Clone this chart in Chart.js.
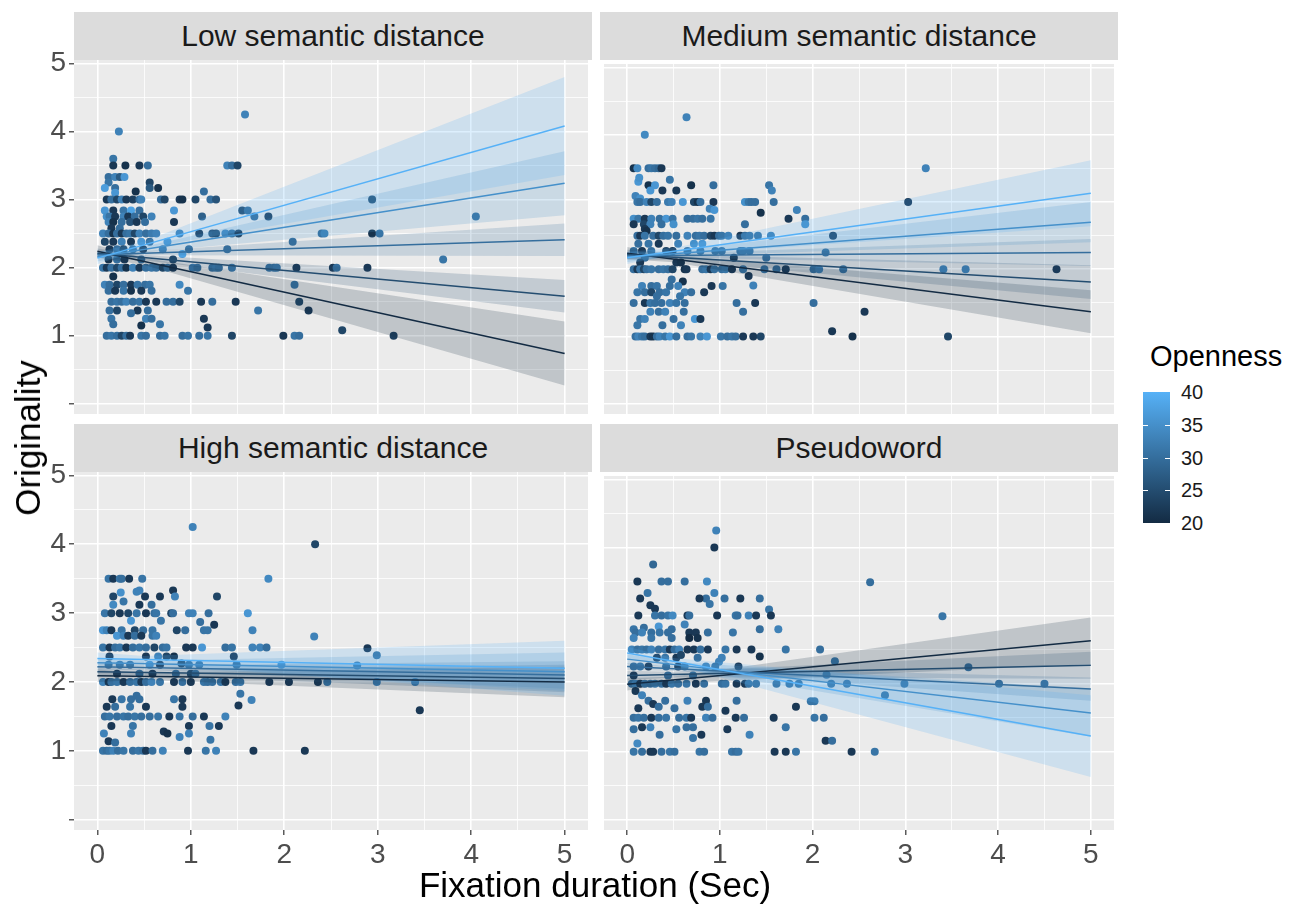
<!DOCTYPE html>
<html>
<head>
<meta charset="utf-8">
<script src="https://cdn.jsdelivr.net/npm/chart.js@4.4.1/dist/chart.umd.min.js"></script>
<style>
  body { margin: 0; width: 1305px; height: 904px; background: #fff; position: relative; overflow: hidden;
         font-family: "Liberation Sans", Arial, sans-serif; }
  canvas { position: absolute; }
  .strip { position: absolute; width: 518px; height: 48px; line-height: 48px; background: #DCDCDC;
           color: #1A1A1A; font-size: 30px; text-align: center; z-index: 2; }
  .title { position: absolute; color: #000; font-size: 35px; white-space: nowrap; }
  #legend { position: absolute; left: 1143px; top: 392px; width: 27px; height: 131px;
            background: linear-gradient(to top, #132B43, #56B1F7); }
  .ltick { position: absolute; width: 5px; height: 1px; background: #fff; }
  .llab { position: absolute; left: 1181px; font-size: 20px; color: #1A1A1A; line-height: 20px; }
</style>
</head>
<body>

<div class="strip" style="left:74px;top:12px">Low semantic distance</div>
<div class="strip" style="left:600px;top:12px">Medium semantic distance</div>
<div class="strip" style="left:74px;top:424px">High semantic distance</div>
<div class="strip" style="left:600px;top:424px">Pseudoword</div>

<canvas id="cLow" width="558" height="378" style="left:34px;top:40px"></canvas>
<canvas id="cMed" width="518" height="358" style="left:600px;top:60px"></canvas>
<canvas id="cHigh" width="558" height="428" style="left:34px;top:452px"></canvas>
<canvas id="cPseudo" width="518" height="408" style="left:600px;top:472px"></canvas>

<div class="title" style="left:28px;top:438px;transform:translate(-50%,-50%) rotate(-90deg)">Originality</div>
<div class="title" style="left:595px;top:885px;transform:translate(-50%,-50%)">Fixation duration (Sec)</div>
<div class="title" style="left:1150px;top:340px;font-size:29px">Openness</div>
<div id="legend"></div>

<script>
// openness levels of the fitted lines (light -> dark)
const lineLevels = [40, 35, 30, 25, 20];
const legendTicks = [20, 25, 30, 35, 40];
const xTicks = [0, 0.5, 1, 1.5, 2, 2.5, 3, 3.5, 4, 4.5, 5];
const yTicks = [0, 0.5, 1, 1.5, 2, 2.5, 3, 3.5, 4, 4.5, 5];
const lineX = [0, 5];
const ciX = [0, 0.5, 5];
const ciAt0 = [0.09, 0.07, 0.05, 0.07, 0.09];
const ciAtHalf = [0.05, 0.04, 0.03, 0.04, 0.05];

// fitted values at x = 0 and x = 5, and CI half width at x = 5
const lowFit0 = [2.14, 2.16, 2.19, 2.21, 2.24];
const lowFit5 = [4.08, 3.24, 2.41, 1.58, 0.74];
const lowCI5 = [0.72, 0.47, 0.24, 0.24, 0.47];
const medFit0 = [2.17, 2.18, 2.20, 2.22, 2.24];
const medFit5 = [3.13, 2.70, 2.25, 1.81, 1.37];
const medCI5 = [0.49, 0.30, 0.20, 0.25, 0.32];
const highFit0 = [2.34, 2.28, 2.22, 2.15, 2.09];
const highFit5 = [2.20, 2.15, 2.10, 2.05, 2.00];
const highCI5 = [0.40, 0.28, 0.20, 0.20, 0.22];
const pseudoFit0 = [2.45, 2.36, 2.25, 2.12, 1.99];
const pseudoFit5 = [1.23, 1.57, 1.92, 2.27, 2.63];
const pseudoCI5 = [0.60, 0.35, 0.17, 0.20, 0.34];

// points: [fixation duration, originality, openness]
const lowPts = [
  [1.58,4.25,33],[0.23,4,33],[0.17,3.6,31],
  [0.17,3.5,22],[0.3,3.5,21],[0.45,3.5,22],[0.54,3.5,30],[1.39,3.5,33],[1.44,3.5,30],[1.5,3.5,24],
  [0.12,3.33,30],[0.19,3.33,33],[0.24,3.33,27],[0.29,3.33,36],[0.12,3.25,31],[0.56,3.25,24],
  [0.08,3.17,37],[0.19,3.17,30],[0.56,3.17,27],[0.65,3.17,21],[0.41,3.12,21],[1.14,3.12,30],[0.19,3.1,36],
  [0.1,3,22],[0.15,3,30],[0.21,3,24],[0.26,3,33],[0.31,3,22],[0.38,3,23],[0.45,3,30],[0.47,3,33],[0.68,3,30],[0.72,3,24],
  [0.88,3,22],[0.91,3,21],[1.05,3,24],[1.21,3,30],[1.27,3,26],[2.94,3,24],
  [0.08,2.84,36],[0.17,2.84,22],[0.28,2.84,31],[0.36,2.84,38],[0.45,2.84,30],[0.82,2.84,36],[1.55,2.84,25],[1.61,2.84,30],
  [0.1,2.75,35],[0.13,2.75,31],[0.19,2.75,22],[0.28,2.75,33],[0.33,2.75,22],[0.4,2.75,30],[0.49,2.75,24],[0.58,2.75,33],
  [1.12,2.75,28],[1.68,2.75,30],[1.83,2.75,23],[4.05,2.75,31],
  [0.12,2.67,33],[0.17,2.67,21],[0.26,2.67,30],[0.35,2.67,26],[0.42,2.67,22],[0.51,2.67,30],[0.82,2.67,22],[0.15,2.58,22],[0.24,2.58,30],
  [0.06,2.5,33],[0.12,2.5,30],[0.17,2.5,21],[0.21,2.5,30],[0.26,2.5,22],[0.31,2.5,30],[0.35,2.5,31],[0.4,2.5,24],[0.45,2.5,33],
  [0.52,2.5,30],[0.58,2.5,32],[0.63,2.5,33],[0.88,2.5,33],[1.09,2.5,22],[1.23,2.5,25],[1.27,2.5,24],[1.37,2.5,33],[1.44,2.5,30],
  [1.51,2.5,22],[2.4,2.5,30],[2.43,2.5,33],[2.94,2.5,21],[3.02,2.5,31],
  [0.08,2.38,24],[0.17,2.38,22],[0.26,2.38,33],[0.36,2.38,22],[0.47,2.38,36],[0.56,2.38,30],[0.75,2.38,36],[2.09,2.38,30],
  [0.13,2.27,22],[0.21,2.27,30],[0.28,2.27,24],[0.38,2.27,31],[0.49,2.27,22],[0.7,2.27,33],[0.98,2.27,30],[1.39,2.27,30],[0.91,2.2,38],
  [0.12,2.12,21],[0.21,2.12,30],[0.29,2.12,22],[0.47,2.12,30],[0.81,2.12,24],[3.7,2.12,31],
  [0.06,2,31],[0.1,2,22],[0.15,2,30],[0.21,2,24],[0.26,2,30],[0.31,2,21],[0.38,2,33],[0.45,2,22],[0.52,2,30],[0.58,2,31],
  [0.63,2,30],[0.7,2,24],[0.75,2,30],[0.81,2,22],[1.02,2,32],[1.07,2,30],[1.23,2,30],[1.27,2,31],[1.3,2,30],[1.44,2,31],
  [1.84,2,30],[1.89,2,30],[1.92,2,31],[2.13,2,22],[2.52,2,22],[2.56,2,30],[2.89,2,22],
  [0.17,1.87,21],
  [0.08,1.75,33],[0.13,1.75,30],[0.21,1.75,24],[0.28,1.75,30],[0.36,1.75,22],[0.43,1.75,31],[0.51,1.75,30],[0.56,1.75,31],[0.88,1.75,34],[2.11,1.75,31],
  [0.12,1.66,30],[0.19,1.66,22],[0.28,1.66,31],[0.36,1.66,21],[0.47,1.66,22],[0.58,1.66,30],[0.97,1.66,31],
  [0.15,1.5,30],[0.21,1.5,31],[0.26,1.5,30],[0.31,1.5,33],[0.38,1.5,30],[0.45,1.5,31],[0.52,1.5,22],[0.63,1.5,22],
  [0.74,1.5,30],[0.81,1.5,30],[0.88,1.5,24],[1.11,1.5,22],[1.23,1.5,30],[1.48,1.5,22],[2.16,1.5,24],
  [0.13,1.37,30],[0.21,1.37,24],[0.43,1.37,22],[0.54,1.37,30],[1.72,1.37,31],[2.26,1.37,22],[0.36,1.33,30],
  [0.15,1.25,31],[0.52,1.25,33],[0.58,1.25,30],[1.14,1.25,22],
  [0.17,1.17,30],[0.47,1.15,21],[0.67,1.17,31],[1.18,1.12,22],[2.62,1.08,24],
  [0.1,1,30],[0.15,1,31],[0.21,1,30],[0.26,1,24],[0.31,1,30],[0.35,1,22],[0.47,1,31],[0.52,1,30],[0.67,1,30],[0.72,1,31],
  [0.91,1,30],[0.97,1,31],[1.09,1,30],[1.18,1,31],[1.44,1,24],[1.99,1,22],[2.11,1,31],[2.16,1,30],[3.17,1,23]
];

const medPts = [
  [0.64,4.26,33],[0.19,4,34],[3.22,3.5,33],[3.03,3,22],
  [0.07,3.5,21],[0.11,3.5,34],[0.23,3.5,30],[0.26,3.5,31],[0.3,3.5,30],[0.34,3.5,29],[0.37,3.5,22],
  [0.46,3.33,31],[0.12,3.3,36],[0.13,3.36,35],
  [0.23,3.25,21],[0.3,3.25,36],[0.69,3.25,21],[0.93,3.25,30],[1.53,3.25,31],[1.56,3.17,33],[0.25,3.17,36],[0.38,3.17,22],[0.53,3.17,22],
  [0.09,3.09,33],[0.14,3.05,35],
  [0.11,3,31],[0.14,3,30],[0.21,3,33],[0.26,3,24],[0.32,3,30],[0.44,3,32],[0.48,3,33],[0.6,3,36],[0.72,3,24],[0.76,3,21],
  [0.79,3,30],[0.93,3,22],[1.27,3,35],[1.31,3,31],[1.34,3,30],[1.38,3,30],[1.58,3,30],
  [0.89,2.9,33],[0.94,2.88,36],[1.83,2.88,33],[1.44,2.84,21],[1.92,2.75,30],[1.92,2.67,35],[1.74,2.75,22],
  [0.07,2.75,35],[0.12,2.75,31],[0.19,2.75,22],[0.26,2.75,33],[0.35,2.75,30],[0.42,2.75,36],[0.49,2.75,31],[0.65,2.75,30],
  [0.71,2.75,30],[0.76,2.75,31],[0.81,2.75,30],[0.9,2.75,31],
  [0.07,2.67,22],[0.18,2.67,24],[0.25,2.67,33],[0.37,2.67,30],[0.5,2.67,35],[1.27,2.67,30],[0.19,2.6,22],[0.21,2.57,21],
  [0.11,2.5,30],[0.14,2.5,22],[0.19,2.5,31],[0.28,2.5,30],[0.34,2.5,24],[0.39,2.5,30],[0.44,2.5,31],[0.53,2.5,30],[0.65,2.5,33],
  [0.74,2.5,30],[0.78,2.5,31],[0.83,2.5,30],[0.9,2.5,24],[0.94,2.5,22],[0.99,2.5,30],[1.02,2.5,31],[1.09,2.5,33],[1.22,2.5,22],
  [1.27,2.5,30],[1.32,2.5,31],[1.41,2.5,31],[1.55,2.5,33],[2.22,2.5,22],
  [0.12,2.38,30],[0.23,2.38,31],[0.34,2.38,22],[0.55,2.38,33],[0.72,2.38,35],[0.81,2.38,36],
  [0.07,2.27,31],[0.16,2.27,22],[0.26,2.27,30],[0.42,2.27,24],[0.49,2.27,22],[0.65,2.27,30],[0.79,2.27,31],[0.95,2.27,30],
  [1.02,2.27,30],[1.22,2.27,30],[1.25,2.27,31],[1.32,2.27,31],[2.14,2.25,31],
  [1.15,2.17,21],[1.5,2.17,30],[0.19,2.17,30],[0.14,2.1,22],[0.53,2.1,22],[0.58,2.1,21],
  [0.07,2,30],[0.11,2,22],[0.14,2,31],[0.18,2,24],[0.21,2,30],[0.26,2,31],[0.34,2,30],[0.39,2,31],[0.44,2,30],[0.49,2,24],
  [0.62,2,21],[0.64,2,22],[0.81,2,30],[0.85,2,31],[0.9,2,22],[0.94,2,30],[1.02,2,30],[1.06,2,31],[1.13,2,22],[1.25,2,31],
  [1.48,2,31],[1.61,2,30],[1.71,2,22],[2.01,2,31],[2.07,2,33],[2.33,2,31],[3.41,2,33],[3.65,2,33],[4.63,2,22],
  [1.31,1.9,22],[0.48,1.85,30],[0.6,1.82,21],
  [0.16,1.75,33],[0.26,1.75,30],[0.32,1.75,31],[0.46,1.75,30],[0.55,1.75,33],[0.91,1.75,22],[1.03,1.75,31],[1.36,1.76,33],
  [0.11,1.66,31],[0.19,1.66,30],[0.26,1.66,24],[0.35,1.66,30],[0.42,1.66,31],[0.62,1.66,33],[0.69,1.66,30],[0.83,1.66,22],
  [0.32,1.6,30],[0.57,1.6,31],
  [0.07,1.5,30],[0.19,1.5,22],[0.25,1.5,31],[0.3,1.5,30],[0.37,1.5,30],[0.46,1.5,33],[0.53,1.5,31],[0.62,1.5,30],
  [1.18,1.5,30],[1.38,1.5,22],[2.01,1.5,30],
  [0.25,1.37,33],[0.34,1.37,30],[0.41,1.37,33],[0.61,1.37,30],[1.25,1.37,30],[2.56,1.37,22],
  [0.14,1.26,31],[0.19,1.26,33],[0.5,1.26,30],[0.73,1.26,36],[0.79,1.26,22],
  [0.11,1.17,31],[0.38,1.17,30],[0.58,1.17,33],[2.21,1.08,22],
  [0.09,1,30],[0.12,1,33],[0.16,1,31],[0.19,1,30],[0.25,1,22],[0.28,1,21],[0.32,1,30],[0.35,1,33],[0.41,1,31],[0.46,1,36],
  [0.53,1,30],[0.65,1,30],[0.69,1,31],[0.79,1,33],[0.86,1,36],[1.01,1,31],[1.08,1,30],[1.13,1,31],[1.17,1,30],[1.25,1,22],
  [1.36,1,22],[1.44,1,24],[2.43,1,21],[3.46,1,24]
];

const highPts = [
  [1.02,4.25,33],[2.33,4,24],[1.83,3.5,34],[2.32,2.66,33],
  [0.12,3.5,31],[0.17,3.5,22],[0.24,3.5,31],[0.26,3.5,30],[0.34,3.5,22],[0.48,3.5,31],
  [0.25,3.3,35],[0.42,3.31,33],[0.45,3.33,33],[0.81,3.33,22],[0.83,3.24,33],[0.51,3.24,22],[0.67,3.24,22],[0.17,3.24,24],
  [1.28,3.24,24],[0.28,3.17,31],[0.17,3.12,34],[0.45,3.12,22],[0.58,3.12,30],
  [0.08,3,31],[0.15,3,24],[0.24,3,22],[0.33,3,24],[0.42,3,31],[0.52,3,22],[0.61,3,30],[0.63,3,31],[0.79,3,24],[0.81,3,30],
  [0.98,3,33],[1.02,3,33],[1.19,3,30],[1.61,3,36],
  [0.36,2.89,36],[0.68,2.89,31],[1.1,2.87,30],[1.25,2.83,22],
  [0.06,2.75,36],[0.1,2.75,33],[0.15,2.75,22],[0.26,2.75,31],[0.4,2.75,24],[0.49,2.75,30],[0.59,2.75,31],[0.85,2.75,24],
  [0.94,2.75,30],[1.14,2.75,31],[1.18,2.75,31],[1.66,2.75,33],
  [0.21,2.67,36],[0.28,2.67,33],[0.33,2.67,22],[0.4,2.67,30],[0.47,2.67,22],[0.59,2.67,31],[0.63,2.67,33],
  [0.06,2.5,31],[0.13,2.5,22],[0.19,2.5,30],[0.24,2.5,31],[0.31,2.5,22],[0.38,2.5,30],[0.45,2.5,31],[0.52,2.5,30],[0.61,2.5,24],
  [0.7,2.5,30],[0.74,2.5,31],[0.95,2.5,22],[1.02,2.5,22],[1.12,2.5,36],[1.37,2.5,30],[1.44,2.5,31],[1.66,2.5,33],[1.74,2.5,33],
  [1.81,2.5,30],[2.89,2.49,22],
  [0.13,2.37,22],[0.52,2.37,22],[0.65,2.37,33],[0.74,2.37,24],[0.82,2.37,21],[1.46,2.37,22],[2.99,2.39,31],
  [0.12,2.25,30],[0.24,2.25,31],[0.35,2.25,30],[0.56,2.25,36],[0.67,2.25,22],[0.9,2.27,24],[0.98,2.25,30],[1.09,2.25,31],
  [1.49,2.25,30],[1.97,2.25,36],[2.78,2.24,33],
  [0.21,2.12,22],[0.45,2.12,30],[0.59,2.12,22],[0.84,2.12,30],[1,2.12,24],[1.05,2.12,31],
  [0.06,2,33],[0.12,2,22],[0.15,2,30],[0.21,2,31],[0.28,2,22],[0.35,2,30],[0.42,2,31],[0.47,2,22],[0.52,2,30],[0.58,2,33],
  [0.67,2,31],[0.82,2,22],[0.91,2,30],[1,2,22],[1.14,2,31],[1.18,2,30],[1.23,2,30],[1.32,2,31],[1.37,2,22],[1.48,2,30],
  [1.53,2,31],[1.84,2,22],[2.05,2,22],[2.36,2,22],[2.46,2,31],[2.99,2,33],[3.4,2,33],
  [1.53,1.83,31],[1.65,1.74,33],[1.51,1.66,22],[3.45,1.59,22],
  [0.42,1.8,30],[0.16,1.75,22],[0.26,1.75,31],[0.36,1.75,30],[0.45,1.75,30],[0.82,1.75,31],[0.91,1.75,22],
  [0.1,1.64,22],[0.19,1.64,30],[0.35,1.64,31],[0.52,1.64,22],[0.91,1.64,22],
  [0.08,1.5,30],[0.13,1.5,31],[0.21,1.5,30],[0.28,1.5,31],[0.33,1.5,30],[0.4,1.5,31],[0.47,1.5,30],[0.56,1.5,30],[0.65,1.5,31],
  [0.77,1.5,22],[0.88,1.5,31],[1.02,1.5,30],[1.14,1.5,22],[1.37,1.5,33],
  [0.15,1.36,22],[0.38,1.36,31],[0.98,1.36,22],[1.2,1.36,31],[1.3,1.36,22],
  [0.07,1.25,33],[0.36,1.25,33],[0.71,1.28,22],[0.75,1.25,21],[0.88,1.2,33],[0.98,1.25,33],
  [0.12,1.14,22],[0.19,1.12,30],[1.21,1.16,31],
  [0.06,1,31],[0.1,1,30],[0.13,1,31],[0.17,1,33],[0.22,1,30],[0.28,1,31],[0.38,1,30],[0.44,1,31],[0.49,1,30],[0.52,1,22],
  [0.59,1,30],[0.7,1,33],[0.97,1,22],[1.16,1,31],[1.27,1,33],[1.67,1,22],[2.22,1,22]
];

const pseudoPts = [
  [0.96,4.25,33],[0.94,4,22],[0.28,3.75,29],[2.62,3.49,30],[3.4,2.99,31],
  [0.11,3.5,22],[0.37,3.5,30],[0.44,3.5,30],[0.62,3.5,30],[0.86,3.5,34],
  [0.22,3.33,31],[0.14,3.25,22],[0.94,3.33,33],[0.85,3.25,30],[0.78,3.25,22],[1.22,3.25,22],[1.43,3.25,30],[1.05,3.25,30],
  [0.89,3.17,31],[0.25,3.15,22],[0.3,3.1,22],[1.53,3.09,31],
  [0.12,3,22],[0.3,3,31],[0.37,3,30],[0.44,3,31],[0.49,3,34],[0.65,3,22],[0.67,3,30],[0.97,3,22],[1.17,3,31],[1.19,3,30],
  [1.31,3,33],[1.39,3,22],[1.55,3,22],
  [0.34,2.84,36],[0.48,2.8,30],[0.62,2.87,33],[1.43,2.8,30],[1.63,2.8,33],[0.07,2.8,31],[0.18,2.82,30],
  [0.09,2.75,30],[0.16,2.75,33],[0.26,2.75,30],[0.35,2.75,31],[0.44,2.75,30],[0.67,2.75,22],[0.74,2.75,22],[0.87,2.75,30],[1.14,2.75,31],
  [0.67,2.67,20],[0.76,2.67,21],[0.07,2.67,33],[0.26,2.67,31],[0.48,2.67,30],
  [0.05,2.5,33],[0.11,2.5,30],[0.16,2.5,31],[0.21,2.5,30],[0.26,2.5,33],[0.34,2.5,30],[0.41,2.5,31],[0.46,2.5,22],[0.51,2.5,30],
  [0.56,2.5,33],[0.65,2.5,22],[0.72,2.5,22],[0.79,2.5,30],[0.87,2.5,22],[1.06,2.5,31],[1.18,2.5,22],[1.34,2.5,22],[1.71,2.5,31],[2.08,2.5,30],
  [0.32,2.38,22],[0.41,2.38,31],[0.53,2.38,22],[0.58,2.42,24],[0.76,2.38,30],[1.02,2.38,33],[0.99,2.32,33],[1.43,2.4,21],[2.24,2.33,31],
  [0.07,2.25,30],[0.14,2.25,31],[0.23,2.25,22],[0.42,2.25,30],[0.55,2.25,22],[0.62,2.25,31],[0.85,2.25,33],[0.95,2.25,30],
  [1.2,2.25,22],[2.15,2.13,30],[3.68,2.24,30],
  [0.07,2.12,22],[0.44,2.12,30],[0.71,2.12,31],
  [0.05,2,30],[0.09,2,33],[0.14,2,22],[0.19,2,31],[0.25,2,30],[0.3,2,31],[0.37,2,30],[0.42,2,22],[0.48,2,31],[0.55,2,30],
  [0.64,2,31],[0.74,2,22],[0.83,2,30],[1.02,2,30],[1.06,2,31],[1.18,2,22],[1.27,2,22],[1.31,2,31],[1.39,2,30],[1.61,2,30],
  [1.75,2,31],[1.85,2,31],[2.2,2,31],[2.37,2,31],[2.99,2,31],[4.01,2,30],[4.5,2,31],
  [2.78,1.83,31],
  [0.09,1.89,22],[0.16,1.83,33],[0.23,1.75,30],[0.28,1.7,22],[0.34,1.66,30],[0.41,1.75,30],[0.65,1.75,33],[0.85,1.75,22],
  [1.18,1.75,30],[1.98,1.74,31],[2.02,1.74,31],
  [0.12,1.64,22],[0.51,1.64,30],[0.81,1.66,22],[0.87,1.66,30],[1.82,1.66,22],[1.06,1.6,22],
  [0.07,1.5,30],[0.12,1.5,31],[0.18,1.5,30],[0.26,1.5,22],[0.34,1.5,30],[0.42,1.5,31],[0.56,1.5,30],[0.64,1.5,31],[0.69,1.5,22],
  [0.85,1.5,33],[0.92,1.5,30],[1.17,1.5,22],[1.26,1.5,30],[1.58,1.5,22],[2.02,1.5,31],[2.12,1.5,30],
  [0.16,1.36,22],[0.25,1.36,33],[0.64,1.36,30],[0.71,1.36,30],[0.53,1.33,31],[1.08,1.33,22],[1.71,1.36,31],
  [0.07,1.33,30],[0.35,1.25,30],[0.8,1.25,22],[1.32,1.25,33],[0.71,1.2,31],[0.11,1.12,34],[2.14,1.16,22],[2.21,1.16,30],
  [0.07,1,31],[0.16,1,30],[0.25,1,22],[0.28,1,22],[0.37,1,30],[0.46,1,31],[0.51,1,30],[0.78,1,31],[0.83,1,30],[1.13,1,31],
  [1.17,1,30],[1.2,1,31],[1.59,1,22],[1.71,1,22],[1.82,1,31],[2.42,1,22],[2.67,1,31]
];

// ggplot default continuous scale: #132B43 (20) -> #56B1F7 (40)
function shade(o, a) {
  const t = Math.max(0, Math.min(1, (o - 20) / 20));
  const r = Math.round(19 + (86 - 19) * t);
  const g = Math.round(43 + (177 - 43) * t);
  const b = Math.round(67 + (247 - 67) * t);
  return a === undefined ? `rgb(${r}, ${g}, ${b})` : `rgba(${r}, ${g}, ${b}, ${a})`;
}

const panelBg = {
  id: 'panelBg',
  beforeDraw(chart) {
    const { ctx, chartArea: a } = chart;
    ctx.save();
    ctx.fillStyle = '#EBEBEB';
    ctx.fillRect(a.left, a.top, a.right - a.left, a.bottom - a.top);
    ctx.restore();
  }
};

const isMajor = v => Math.abs(v - Math.round(v)) < 1e-9;

function makePanel(id, pts, fit0, fit5, ci5, showY, showX) {
  const datasets = [];
  lineLevels.forEach((o, i) => {
    const fit = x => fit0[i] + (fit5[i] - fit0[i]) * x / 5;
    datasets.push({
      data: lineX.map(x => ({ x, y: fit(x) })),
      borderColor: shade(o), borderWidth: 1.5, pointRadius: 0, fill: false, order: 1
    });
  });
  lineLevels.forEach((o, i) => {
    const fit = x => fit0[i] + (fit5[i] - fit0[i]) * x / 5;
    const hw = [ciAt0[i], ciAtHalf[i], ci5[i]];
    datasets.push({
      data: ciX.map((x, k) => ({ x, y: fit(x) + hw[k] })),
      borderColor: 'rgba(0,0,0,0)', borderWidth: 0, pointRadius: 0, fill: false, order: 2
    });
    datasets.push({
      data: ciX.map((x, k) => ({ x, y: fit(x) - hw[k] })),
      borderColor: 'rgba(0,0,0,0)', borderWidth: 0, pointRadius: 0,
      fill: '-1', backgroundColor: shade(o, 0.2), order: 2
    });
  });
  datasets.push({
    data: pts.map(p => ({ x: p[0], y: p[1] })),
    showLine: false, pointRadius: 4, pointHoverRadius: 4, pointBorderWidth: 0,
    pointBackgroundColor: pts.map(p => shade(p[2])), order: 3
  });

  const gridOpts = show => ({
    color: '#FFFFFF',
    lineWidth: c => isMajor(c.tick.value) ? 1.6 : 0.8,
    drawTicks: show,
    tickLength: 5,
    tickWidth: 1.2,
    tickColor: c => isMajor(c.tick.value) ? '#333333' : 'rgba(0,0,0,0)'
  });

  new Chart(document.getElementById(id), {
    type: 'line',
    data: { datasets },
    options: {
      responsive: false,
      animation: false,
      devicePixelRatio: 1,
      layout: { padding: { top: showY ? 20 : 0, left: 0, right: 0, bottom: 0 } },
      plugins: { legend: { display: false }, tooltip: { enabled: false } },
      events: [],
      scales: {
        x: {
          type: 'linear', min: -0.25, max: 5.25,
          afterBuildTicks: s => { s.ticks = xTicks.map(v => ({ value: v })); },
          afterFit: s => { s.height = showX ? 50 : 0; s.paddingLeft = 0; s.paddingRight = 0; },
          ticks: {
            display: showX, autoSkip: false, maxRotation: 0, padding: 3, color: '#4D4D4D',
            font: { size: 28, family: 'Liberation Sans' },
            callback: v => isMajor(v) ? String(v) : ''
          },
          grid: gridOpts(showX),
          border: { display: false }
        },
        y: {
          type: 'linear', min: -0.15, max: 5.05,
          afterBuildTicks: s => { s.ticks = yTicks.map(v => ({ value: v })); },
          afterFit: s => { s.width = showY ? 40 : 0; s.paddingTop = 0; s.paddingBottom = 0; },
          ticks: {
            display: showY, autoSkip: false, padding: 3, color: '#4D4D4D',
            font: { size: 28, family: 'Liberation Sans' },
            callback: v => (isMajor(v) && v > 0) ? String(v) : ''
          },
          grid: gridOpts(showY),
          border: { display: false }
        }
      }
    },
    plugins: [panelBg]
  });
}

makePanel('cLow', lowPts, lowFit0, lowFit5, lowCI5, true, false);
makePanel('cMed', medPts, medFit0, medFit5, medCI5, false, false);
makePanel('cHigh', highPts, highFit0, highFit5, highCI5, true, true);
makePanel('cPseudo', pseudoPts, pseudoFit0, pseudoFit5, pseudoCI5, false, true);

// colour bar legend
const bar = document.getElementById('legend');
const barTop = 392, barH = 131;
legendTicks.forEach(v => {
  const y = barTop + barH * (1 - (v - 20) / 20);
  if (v > 20 && v < 40) {
    [0, 22].forEach(dx => {
      const t = document.createElement('div');
      t.className = 'ltick';
      t.style.left = dx + 'px';
      t.style.top = (y - barTop) + 'px';
      bar.appendChild(t);
    });
  }
  const lab = document.createElement('div');
  lab.className = 'llab';
  lab.style.top = (y - 10) + 'px';
  lab.textContent = v;
  document.body.appendChild(lab);
});
</script>
</body>
</html>
